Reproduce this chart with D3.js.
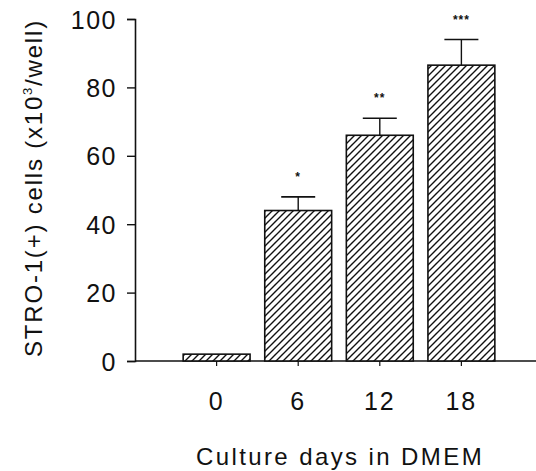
<!DOCTYPE html>
<html lang="en">
  <head>
    <meta charset="UTF-8">
    <script src="https://d3js.org/d3.v7.min.js"></script>
    <style>
      html,body{
        width:100%;
        height:100%;
        margin: 0px;
        background: #fff;
      }
      text{ font-family: Arial, "Liberation Sans", sans-serif; fill:#111; }
    </style>
  </head>
  <body>
    <svg id="chart" width="536" height="471"></svg>
  </body>
</html>
<script>
// values
var days = ["0", "6", "12", "18"];
var means = [2, 44, 66, 86.5];
var errs = [0.6, 4, 5, 7.5];
var stars = ["", "*", "**", "***"];
var yTicks = [0, 20, 40, 60, 80, 100];

var svg = d3.select("#chart"),
    width = 536, height = 471;

var plotLeft = 135, plotTop = 19, plotBottom = 361;

var y = d3.scaleLinear()
    .domain([0, 100])
    .range([plotBottom, plotTop]);

var x = d3.scaleBand()
    .domain(days)
    .range([175, 503])
    .paddingInner(0.18)
    .paddingOuter(0.1);

// hatch
var defs = svg.append("defs");
var pat = defs.append("pattern")
    .attr("id", "hatch")
    .attr("patternUnits", "userSpaceOnUse")
    .attr("width", 7).attr("height", 7);
pat.append("rect").attr("width", 7).attr("height", 7).attr("fill", "#fff");
pat.append("path")
    .attr("d", "M-1,8 L8,-1 M-1,1 L1,-1 M6,8 L8,6")
    .attr("stroke", "#111").attr("stroke-width", 1.4);

// y axis
var yAxis = d3.axisLeft(y).tickValues(yTicks).tickSize(8).tickPadding(10);
var gy = svg.append("g").attr("transform", "translate(" + plotLeft + ",0)").call(yAxis);
gy.select(".domain").attr("stroke", "#111").attr("stroke-width", 1.6);
gy.selectAll(".tick line").attr("stroke", "#111").attr("stroke-width", 1.4);
gy.selectAll(".tick text")
    .style("font-size", "25px").style("letter-spacing", "1.5px")
    .attr("dy", "0.36em");

// x axis line
svg.append("line")
    .attr("x1", plotLeft).attr("x2", width)
    .attr("y1", y(0)).attr("y2", y(0))
    .attr("stroke", "#111").attr("stroke-width", 1.6);

// bars
svg.selectAll(".bar").data(days).enter().append("rect")
    .attr("class", "bar")
    .attr("x", function(d) { return x(d); })
    .attr("y", function(d, i) { return y(means[i]); })
    .attr("width", x.bandwidth())
    .attr("height", function(d, i) { return y(0) - y(means[i]); })
    .attr("fill", "url(#hatch)")
    .attr("stroke", "#111").attr("stroke-width", 1.6);

// error bars (upper only)
var cap = 17;
days.forEach(function(d, i) {
  var cx = x(d) + x.bandwidth() / 2;
  if (i > 0) {
    svg.append("line")
      .attr("x1", cx).attr("x2", cx)
      .attr("y1", y(means[i])).attr("y2", y(means[i] + errs[i]))
      .attr("stroke", "#111").attr("stroke-width", 1.4);
    svg.append("line")
      .attr("x1", cx - cap).attr("x2", cx + cap)
      .attr("y1", y(means[i] + errs[i])).attr("y2", y(means[i] + errs[i]))
      .attr("stroke", "#111").attr("stroke-width", 1.6);
  }
  svg.append("text")
    .attr("x", cx).attr("y", y(means[i] + errs[i]) - 16)
    .attr("text-anchor", "middle")
    .style("font-size", "12px").style("font-weight", "bold")
    .style("letter-spacing", "1px")
    .text(stars[i]);
  // small tick under the axis
  svg.append("line")
    .attr("x1", cx).attr("x2", cx)
    .attr("y1", y(0)).attr("y2", y(0) + 5)
    .attr("stroke", "#111").attr("stroke-width", 1.2);
  svg.append("text")
    .attr("x", cx).attr("y", 410)
    .attr("text-anchor", "middle")
    .style("font-size", "25px").style("letter-spacing", "2px")
    .text(d);
});

// axis titles
svg.append("text")
    .attr("x", 340).attr("y", 465)
    .attr("text-anchor", "middle")
    .style("font-size", "24px").style("letter-spacing", "2.4px")
    .text("Culture days in DMEM");

var yl = svg.append("text")
    .attr("transform", "translate(42,188) rotate(-90)")
    .attr("text-anchor", "middle")
    .style("font-size", "24px").style("letter-spacing", "1.8px");
yl.append("tspan").text("STRO-1(+) cells (x10");
yl.append("tspan").attr("dy", "-10").style("font-size", "13px").text("3");
yl.append("tspan").attr("dy", "10").text("/well)");
</script>
